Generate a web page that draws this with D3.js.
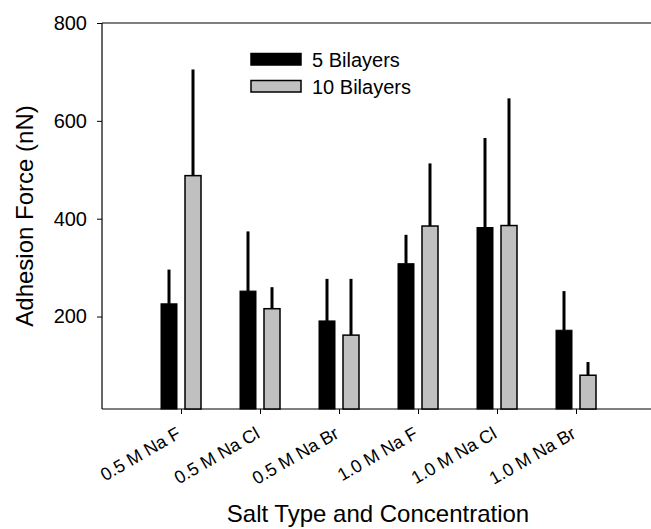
<!DOCTYPE html>
<html><head><meta charset="utf-8">
<script src="https://cdn.jsdelivr.net/npm/d3@7"></script>
<style>body{margin:0;background:#fff;} text{font-family:"Liberation Sans",Arial,sans-serif;fill:#000;}</style>
</head><body>
<script>
const categories = ["0.5 M Na F","0.5 M Na Cl","0.5 M Na Br","1.0 M Na F","1.0 M Na Cl","1.0 M Na Br"];
const bilayers5 = [226, 252, 191, 308, 382, 172];
const bilayers5Err = [70, 122, 86, 59, 183, 80];
const bilayers10 = [488, 216, 162, 385, 386, 80];
const bilayers10Err = [217, 44, 115, 128, 260, 27];
const yTicks = [200, 400, 600, 800];
const seriesNames = ["5 Bilayers", "10 Bilayers"];

const W = 651, H = 529;
const svg = d3.select("body").append("svg").attr("width", W).attr("height", H);
const pLeft = 102, pRight = 655, pTop = 23, pBottom = 409;

const x = d3.scalePoint().domain(categories).range([pLeft, pRight]).padding(1);
const y = d3.scaleLinear().domain([11, 800]).range([pBottom, pTop]);

// frame lines
svg.append("line").attr("x1", pLeft).attr("x2", W).attr("y1", pTop).attr("y2", pTop).attr("stroke", "#000").attr("stroke-width", 1.2);

const yAxis = d3.axisLeft(y).tickValues(yTicks).tickSize(5).tickPadding(10).tickFormat(d3.format("d"));
const gy = svg.append("g").attr("transform", `translate(${pLeft},0)`).call(yAxis);
gy.select(".domain").attr("stroke-width", 1.2).attr("d", `M0,${pBottom}V${pTop}`);
gy.selectAll("text").style("font-size", "20px").attr("font-family", null);

const xAxis = d3.axisBottom(x).tickSize(5).tickFormat("");
const gx = svg.append("g").attr("transform", `translate(0,${pBottom})`).call(xAxis);
gx.select(".domain").attr("stroke-width", 1.2).attr("d", `M${pLeft},0H${W}`);

// x labels rotated
svg.append("g").selectAll("text").data(categories).join("text")
  .attr("transform", d => `translate(${x(d) + 1},${pBottom + 28}) rotate(-30)`)
  .attr("text-anchor", "end")
  .style("font-size", "18px")
  .text(d => d);

const bw = 16, off = 4;
const data = categories.map((c, i) => ({c, v5: bilayers5[i], e5: bilayers5Err[i], v10: bilayers10[i], e10: bilayers10Err[i]}));

// error bars
svg.append("g").selectAll("line").data(data).join("line")
  .attr("x1", d => x(d.c) - off - bw / 2).attr("x2", d => x(d.c) - off - bw / 2)
  .attr("y1", d => y(d.v5)).attr("y2", d => y(d.v5 + d.e5))
  .attr("stroke", "#000").attr("stroke-width", 3);
svg.append("g").selectAll("line").data(data).join("line")
  .attr("x1", d => x(d.c) + off + bw / 2).attr("x2", d => x(d.c) + off + bw / 2)
  .attr("y1", d => y(d.v10)).attr("y2", d => y(d.v10 + d.e10))
  .attr("stroke", "#000").attr("stroke-width", 3);

// bars
svg.append("g").selectAll("rect").data(data).join("rect")
  .attr("x", d => x(d.c) - off - bw).attr("width", bw)
  .attr("y", d => y(d.v5)).attr("height", d => pBottom - y(d.v5))
  .attr("fill", "#000").attr("stroke", "#000").attr("stroke-width", 1);
svg.append("g").selectAll("rect").data(data).join("rect")
  .attr("x", d => x(d.c) + off).attr("width", bw)
  .attr("y", d => y(d.v10)).attr("height", d => pBottom - y(d.v10))
  .attr("fill", "#c0c0c0").attr("stroke", "#000").attr("stroke-width", 1.5);

// legend
const leg = svg.append("g");
seriesNames.forEach((s, i) => {
  leg.append("rect").attr("x", 251).attr("y", 53.5 + i * 27).attr("width", 50).attr("height", 11.5)
    .attr("fill", i === 0 ? "#000" : "#c0c0c0").attr("stroke", "#000").attr("stroke-width", 1.5);
  leg.append("text").attr("x", 312).attr("y", 67 + i * 26.5).style("font-size", "20px").text(s);
});

// axis titles
svg.append("text").attr("transform", `translate(33,216) rotate(-90)`).attr("text-anchor", "middle")
  .style("font-size", "24px").text("Adhesion Force (nN)");
svg.append("text").attr("x", 378).attr("y", 522).attr("text-anchor", "middle")
  .style("font-size", "24px").text("Salt Type and Concentration");
</script>
</body></html>
